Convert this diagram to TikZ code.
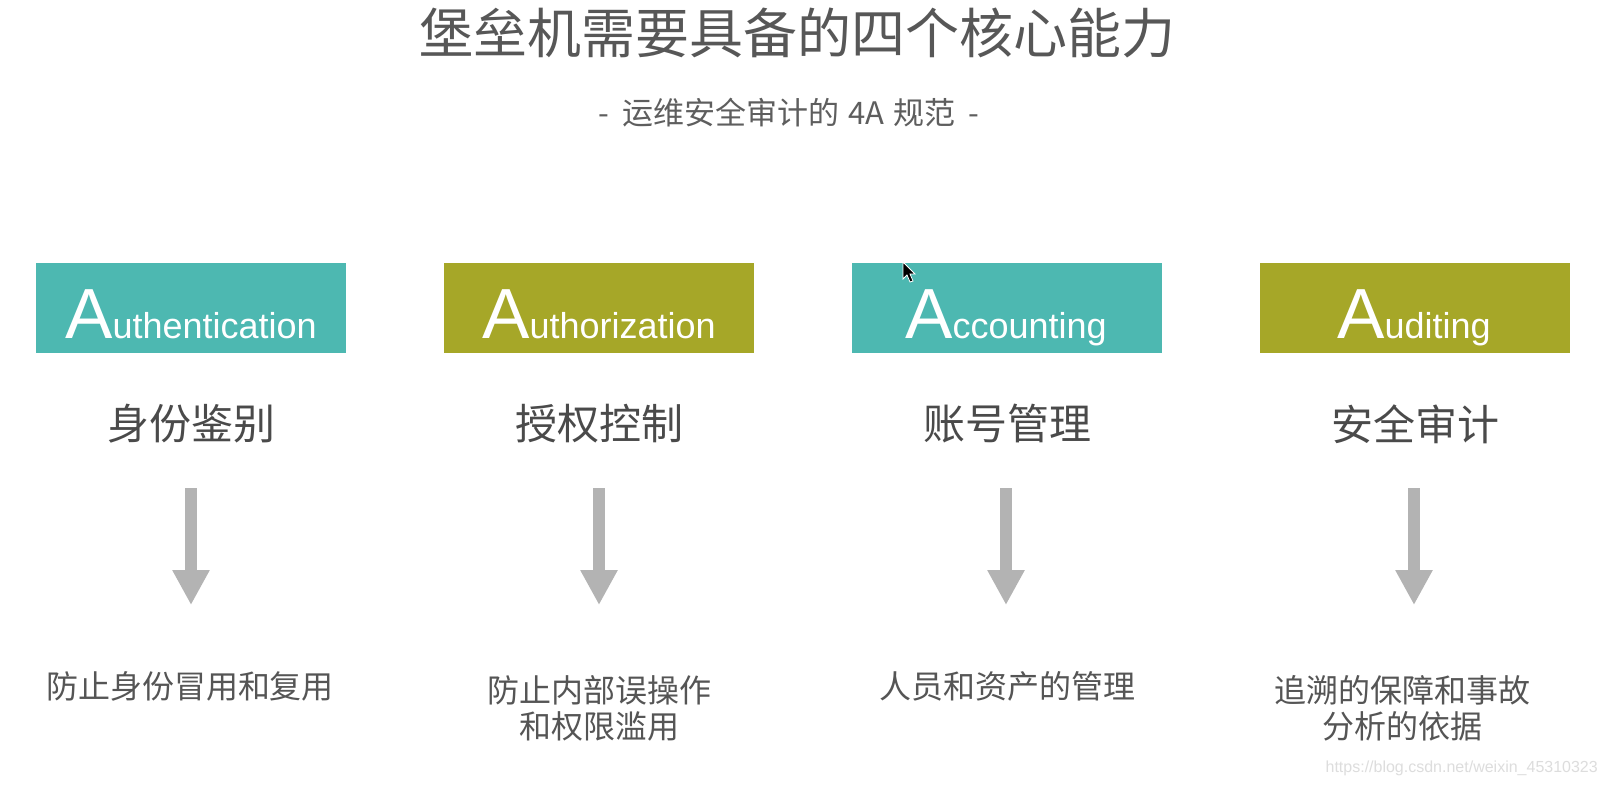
\documentclass[tikz,border=0pt]{standalone}
\usepackage{fontspec}
\setmainfont{Liberation Sans}
\newfontfamily\cjk{Noto Sans CJK SC}
\usetikzlibrary{arrows.meta}
\definecolor{teal4a}{HTML}{4DB8B1}
\definecolor{olive4a}{HTML}{A6A728}
\definecolor{titlegray}{HTML}{575757}
\definecolor{subgray}{HTML}{5E5E5E}
\definecolor{labelgray}{HTML}{4A4A4A}
\definecolor{descgray}{HTML}{555555}
\definecolor{arrowgray}{HTML}{B3B3B3}
\definecolor{wmgray}{HTML}{DDDDDD}
\newcommand{\fs}[1]{\fontsize{#1}{#1}\selectfont}
\newcommand{\bigA}[1]{{\fs{71}A}{\fs{36}#1}}
\tikzset{
  abox/.style={minimum width=310pt, minimum height=90pt, inner sep=0pt, draw=none},
  aword/.style={anchor=base, text=white, inner sep=0pt},
  cnlabel/.style={font=\cjk\fs{42}, text=labelgray, inner sep=0pt},
  desc/.style={font=\cjk\fs{32}, text=descgray, align=center, inner sep=0pt},
  downarrow/.style={draw=arrowgray, line width=12pt, -{Triangle[width=35pt,length=35pt]}},
}
\begin{document}
\begin{tikzpicture}[x=1pt,y=-1pt]
\useasboundingbox[fill=white] (0,0) rectangle (1607,786);

\node[font=\cjk\fs{54}, text=titlegray, inner sep=0pt] (title) at (797,33) {堡垒机需要具备的四个核心能力};
\node[font=\cjk\fs{31}, text=subgray, inner sep=0pt] (sub) at (789,113) {-\hspace{13pt}运维安全审计的\hspace{9pt}4A\hspace{9pt}规范\hspace{13pt}-};

% boxes
\node[abox, fill=teal4a]  (b1) at (191,308) {};
\node[abox, fill=olive4a] (b2) at (599,308) {};
\node[abox, fill=teal4a]  (b3) at (1007,308) {};
\node[abox, fill=olive4a] (b4) at (1415,308) {};

\node[aword] (w1) at (191,339) {\bigA{uthentication}};
\node[aword] (w2) at (599,339) {\bigA{uthorization}};
\node[aword] (w3) at (1006,339) {\bigA{ccounting}};
\node[aword] (w4) at (1414,339) {\bigA{uditing}};

% chinese labels
\node[cnlabel] (l1) at (191,424) {身份鉴别};
\node[cnlabel] (l2) at (599,424) {授权控制};
\node[cnlabel] (l3) at (1007,424) {账号管理};
\node[cnlabel] (l4) at (1415,424) {安全审计};

% arrows
\foreach \i/\x in {1/191,2/599,3/1006,4/1414}{
  \coordinate (s\i) at (\x,488);
  \coordinate (e\i) at (\x,605);
  \draw[downarrow] (s\i) -- (e\i);
}

% descriptions
\node[desc] (d1) at (190,686) {防止身份冒用和复用};
\node[desc] (d2) at (599,708) {防止内部误操作\\[4pt]和权限滥用};
\node[desc] (d3) at (1007,686) {人员和资产的管理};
\node[desc] (d4) at (1402,708) {追溯的保障和事故\\[4pt]分析的依据};

% watermark
\node[font=\fs{16}, text=wmgray, anchor=east, inner sep=0pt] (wm) at (1598,768) {https://blog.csdn.net/weixin\_45310323};

% mouse cursor
\filldraw[fill=black, draw=white, line width=0.8pt]
  (903,262) -- (903,279) -- (907,275) -- (910,282) -- (913,281) -- (910,274) -- (915,274) -- cycle;
\end{tikzpicture}
\end{document}
